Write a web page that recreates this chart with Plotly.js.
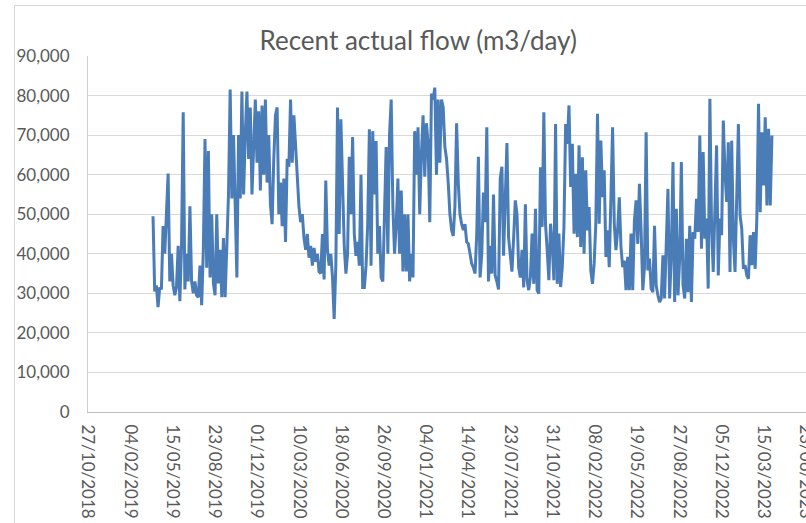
<!DOCTYPE html>
<html><head><meta charset="utf-8">
<script src="https://cdn.plot.ly/plotly-3.0.1.min.js"></script>
<style>
html,body{margin:0;padding:0;background:#fff;overflow:hidden;width:806px;height:523px}
#frame{position:absolute;left:14px;top:5px;width:820px;height:540px;border-left:1px solid #d9d9d9;border-top:1px solid #d9d9d9}
#chart{position:absolute;left:0;top:0;width:800px;height:517px}
</style></head>
<body><div id="frame"><div id="chart"></div></div>
<script>
const firstDate = '2019-03-30';
const lastDate = '2023-04-04';
const flow2019 = [49.5,30.5,32,26.5,31.5,31,47,40,50,60.3,33,40,32,29.5,31.5,42,28,42,75.8,31,40,33,52,33,30,33,29.5,29,37,27,41,69,36.5,66,34,50,32.5,29.5,50,32.5,41,29,44,29,42,55,81.5,54,70,47,34,70,54,81,55,70,81,64,77,55,70,79,63,76,56,77.5,60,79,58,70,52.5,47.5,64,75];
const flow2020 = [77,50,58,47,59,43,64,62,79,63,75,68,58,52,48,50,44,41,45,39,42,37,41.5,38,40,35.5,35,45,33.5,58.5,41,37,40,34,23.5,37,77,45,74,59,42,35,40,64.5,50,69.5,45,39.5,43,37,60,31.5,31.5,37,47.5,71.5,37,71,55,68.5,40,47,34,33,47,67,40,70,79,52,40,47.5,59,40];
const flow2021 = [56,35.5,50,35.5,50,33,40,34,71,60,72,50,65,75,59.5,73,68,48,80.5,79,82,60,79,63,79,77,67,64,58,50,46,44.5,52,73,58,50,47.5,46,47.5,43,42.5,40,37.5,36.5,35,45,64.5,34,40,55.5,48,72,33,42,35,55,34.5,33,31,59,62,39.5,56,68,44,39,35.5,44,53.5,50,36.5,34,41,31.5,52.5];
const flow2022 = [33.3,30.8,34.1,45.1,32.4,51.4,30.8,29.9,61.9,46.8,75.8,47.6,40.9,33.3,47.6,42.5,33.3,72.8,32.4,45.1,31.6,36.6,46.8,72.8,67.8,77.5,56.9,67.8,45.1,60.2,44.2,67.4,41.7,64.4,40,61.1,45.9,51.8,35.8,32.4,37.5,47.6,75.4,47.6,68.6,54.3,61.1,39.2,45.9,36.6,54.3,72,47.6,40.9,45.9,54.3,41.7,36.6,38.3,30.8,39.2,30.8,45.1,30.8,48.4,53.5,42.5,57.7,45.9,30.8,36.6,70.7,35.8];
const flow2023 = [38.8,31.2,30.3,47.1,32,29.5,27.8,28.7,39.6,28.7,42.1,56.4,28.7,39.6,63.2,27.8,51.4,29.5,38.8,63.2,32,28.7,43.8,30.3,47.1,27.8,45.5,43.8,53.9,45.5,69.9,41.3,65.7,43.8,48.9,31.2,79.2,47.1,35.4,51.4,67.4,34.5,48.9,44.7,73.7,60.6,53.1,68.2,35.4,68.6,43.8,35.4,57.3,72.8,49.7,46.3,36.2,37.1,34.5,33.7,44.7,37.1,45.5,36.2,48.9,77.9,50.5,70.7,57.3,74.5,52.2,71.6,52.2,69.9];

const flowK = [].concat(flow2019, flow2020, flow2021, flow2022, flow2023);
const flow = flowK.map(v => v * 1000);
const t0 = Date.parse(firstDate + 'T00:00:00Z');
const t1 = Date.parse(lastDate + 'T00:00:00Z');
const step = (t1 - t0) / (flow.length - 1);
const dates = flow.map((_, i) => new Date(t0 + i * step).toISOString().slice(0, 19).replace('T', ' '));

const FONT = 'Lato, "Open Sans", sans-serif';
const trace = {
  type: 'scatter', mode: 'lines', x: dates, y: flow,
  line: {color: '#4a7cb8', width: 3},
  hoverinfo: 'skip'
};
const layout = {
  width: 800, height: 517,
  margin: {l: 73, r: 0, t: 50, b: 111, pad: 0},
  paper_bgcolor: 'rgba(0,0,0,0)', plot_bgcolor: 'rgba(0,0,0,0)',
  showlegend: false,
  font: {family: FONT, color: '#595959', size: 17},
  title: {text: 'Recent actual flow (m3/day)', font: {family: FONT, size: 26, color: '#595959'},
          xref: 'container', x: 0.504, xanchor: 'center', yref: 'container', y: 0.932, yanchor: 'middle'},
  xaxis: {type: 'date', range: ['2018-10-27', '2023-07-15'], tick0: '2018-10-27', dtick: 100 * 86400000,
          tickformat: '%d/%m/%Y', tickangle: 90, showgrid: false, showline: true, linecolor: '#bfbfbf',
          linewidth: 1, ticks: '', zeroline: false, ticklabelstandoff: 8, automargin: false,
          ticklabeloverflow: 'allow',
          tickfont: {family: FONT, size: 17, color: '#595959'}},
  yaxis: {range: [0, 90000], tick0: 0, dtick: 10000, tickformat: ',d', showgrid: true, gridcolor: '#d9d9d9',
          gridwidth: 1, showline: true, linecolor: '#d0d0d0', zeroline: false, ticks: '',
          ticklabelstandoff: 14, automargin: false, tickfont: {family: FONT, size: 17, color: '#595959'}}
};
Plotly.newPlot('chart', [trace], layout, {staticPlot: true, displayModeBar: false});
</script>
</body></html>
